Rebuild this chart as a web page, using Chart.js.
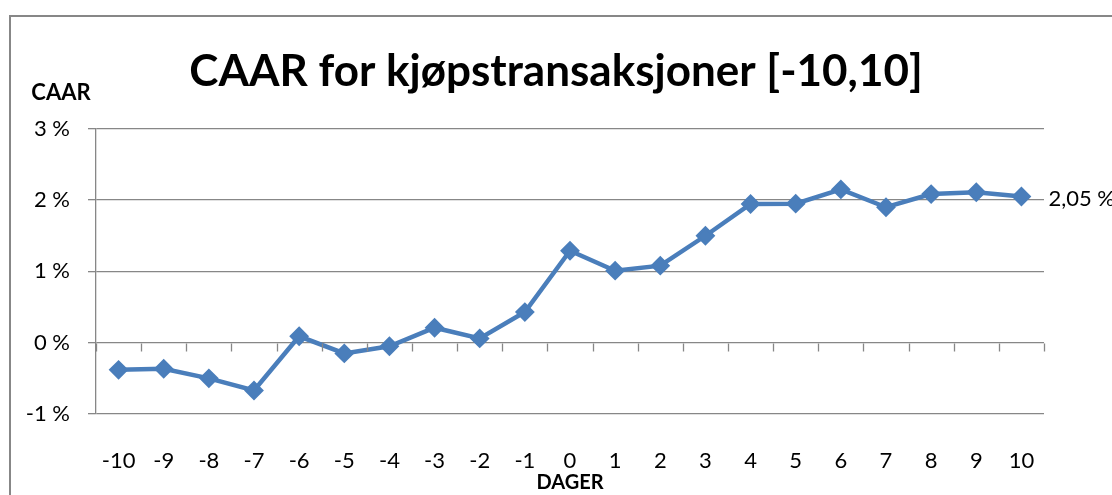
<!DOCTYPE html>
<html><head><meta charset="utf-8">
<script src="https://cdn.jsdelivr.net/npm/chart.js@4.4.0/dist/chart.umd.min.js"></script>
<style>
html,body{margin:0;padding:0;background:#fff;overflow:hidden;}
#wrap{position:relative;width:1112px;height:495px;overflow:hidden;}
#frame{position:absolute;left:9px;top:15px;width:1200px;height:600px;border:2px solid #878787;box-sizing:border-box;}
canvas{position:absolute;left:0;top:0;}
</style></head><body>
<div id="wrap"><div id="frame"></div><canvas id="c" width="1112" height="495"></canvas></div>
<script>
const categories = ['-10','-9','-8','-7','-6','-5','-4','-3','-2','-1','0','1','2','3','4','5','6','7','8','9','10'];
const caar = [-0.38,-0.365,-0.50,-0.67,0.09,-0.15,-0.05,0.21,0.06,0.43,1.29,1.01,1.08,1.50,1.945,1.95,2.15,1.90,2.085,2.11,2.05];
const yTicks = [-1,0,1,2,3];
const lastLabel = '2,05 %';
const titleText = 'CAAR for kjøpstransaksjoner [-10,10]';
const yTitle = 'CAAR';
const xTitle = 'DAGER';

const FONT = 'Lato, "Open Sans", sans-serif';
const GRID = '#878787';
const BLUE = '#4A7EBB';

const extras = {
  id: 'extras',
  afterDraw(chart) {
    const ctx = chart.ctx;
    const xs = chart.scales.x, ys = chart.scales.y;
    const ca = chart.chartArea;
    ctx.save();
    // category tick marks on the zero line
    const y0 = Math.round(ys.getPixelForValue(0)) + 0.5;
    ctx.strokeStyle = GRID;
    ctx.lineWidth = 1.3;
    for (let i = 0; i <= categories.length; i++) {
      const x = Math.round(xs.getPixelForValue(i - 0.5)) + 0.5;
      ctx.beginPath();
      ctx.moveTo(x, y0);
      ctx.lineTo(x, y0 + 8);
      ctx.stroke();
    }
    // y title
    ctx.fillStyle = '#000';
    ctx.font = 'bold 22px ' + FONT;
    ctx.textAlign = 'center';
    ctx.textBaseline = 'middle';
    ctx.fillText(yTitle, ca.left - 35, ca.top - 36);
    // last point label
    const meta = chart.getDatasetMeta(0);
    const pt = meta.data[meta.data.length - 1];
    ctx.font = '22px ' + FONT;
    ctx.textAlign = 'left';
    ctx.fillText(lastLabel, pt.x + 27, pt.y + 2);
    ctx.restore();
  }
};

new Chart(document.getElementById('c'), {
  type: 'line',
  data: {
    labels: categories,
    datasets: [{
      data: caar,
      borderColor: BLUE,
      backgroundColor: BLUE,
      borderWidth: 4.5,
      pointStyle: 'rectRot',
      pointRadius: 8.5,
      pointBorderWidth: 2,
      pointBorderColor: BLUE,
      pointBackgroundColor: BLUE,
      tension: 0,
      clip: false
    }]
  },
  options: {
    responsive: false,
    animation: false,
    layout: { padding: { left: 0, right: 0, top: 0, bottom: 0 } },
    plugins: {
      legend: { display: false },
      tooltip: { enabled: false },
      title: {
        display: true,
        text: titleText,
        color: '#000',
        font: { family: FONT, size: 44, weight: 'bold' },
        padding: { top: 45, bottom: 31 }
      }
    },
    scales: {
      x: {
        type: 'category',
        offset: true,
        grid: { display: false, drawTicks: false },
        border: { display: false },
        ticks: { color: '#000', font: { family: FONT, size: 22 }, padding: 34, maxRotation: 0, autoSkip: false },
        title: { display: true, text: xTitle, color: '#000', font: { family: FONT, size: 20, weight: 'bold' }, padding: { top: 0, bottom: 0 } },
        afterFit(scale) { scale.height = 81; }
      },
      y: {
        min: -1, max: 3,
        afterBuildTicks(scale) { scale.ticks = yTicks.map(v => ({ value: v })); },
        grid: { color: GRID, lineWidth: 1.3, tickLength: 8, drawTicks: true },
        border: { display: true, color: GRID, width: 1.3 },
        ticks: { color: '#000', font: { family: FONT, size: 22 }, padding: 18, callback: v => v + ' %' },
        afterFit(scale) { scale.width = 96; }
      },
      yRight: {
        type: 'linear',
        position: 'right',
        display: true,
        grid: { display: false, drawTicks: false },
        border: { display: false },
        ticks: { display: false },
        afterFit(scale) { scale.width = 68; }
      }
    }
  },
  plugins: [extras]
});
</script>
</body></html>
